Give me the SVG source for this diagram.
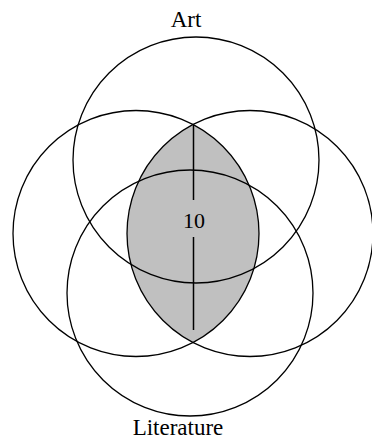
<svg xmlns="http://www.w3.org/2000/svg" width="372" height="439" viewBox="0 0 372 439">
<style>
.c{fill:none;stroke:#000;stroke-width:1.3}
.t{font-family:"Liberation Serif","Times New Roman",serif;font-size:23px;fill:#000;text-anchor:middle}
.l{stroke:#000;stroke-width:1.5}
</style>
<defs>
<clipPath id="clipL"><circle cx="136" cy="233.5" r="123"/></clipPath>
</defs>
<rect width="372" height="439" fill="#fff"/>
<g id="lens">
<circle cx="250" cy="233.5" r="123" fill="#c0c0c0" clip-path="url(#clipL)"/>
</g>
<g id="art">
<circle class="c" cx="196" cy="160" r="123"/>
<text class="t" x="186" y="27">Art</text>
</g>
<g id="literature">
<circle class="c" cx="190" cy="293" r="123"/>
<text class="t" x="178" y="435">Literature</text>
</g>
<g id="left">
<circle class="c" cx="136" cy="233.5" r="123"/>
</g>
<g id="right">
<circle class="c" cx="250" cy="233.5" r="123"/>
</g>
<g id="connectors">
<line class="l" x1="193.5" y1="125" x2="193.5" y2="200"/>
<line class="l" x1="193.5" y1="237" x2="193.5" y2="330"/>
</g>
<g id="value">
<text class="t" x="194" y="228" style="font-size:22px">10</text>
</g>
</svg>
